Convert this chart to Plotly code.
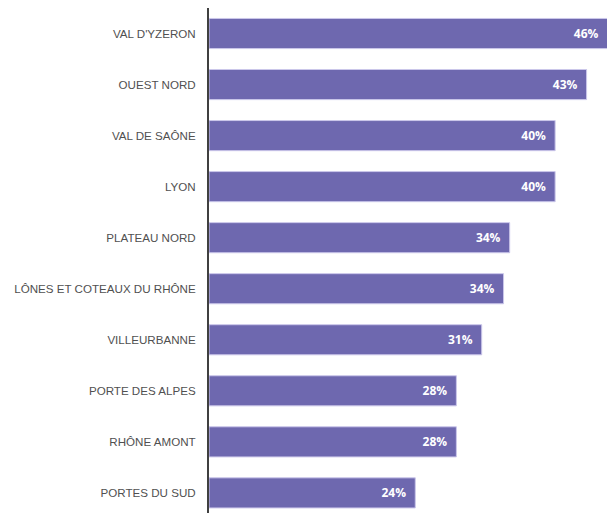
import plotly.graph_objects as go

categories = ["VAL D'YZERON", "OUEST NORD", "VAL DE SAÔNE", "LYON", "PLATEAU NORD",
              "LÔNES ET COTEAUX DU RHÔNE", "VILLEURBANNE", "PORTE DES ALPES",
              "RHÔNE AMONT", "PORTES DU SUD"]
values = [45.6, 43.2, 39.6, 39.6, 34.4, 33.7, 31.2, 28.3, 28.3, 23.6]

fig = go.Figure(go.Bar(
    x=values, y=categories, orientation="h",
    marker=dict(color="#6E68AF", line=dict(color="#CBC7EA", width=1)),
    texttemplate="%{x:.0f}%\u00a0\u00a0", textposition="inside",
    insidetextanchor="end",
    textfont=dict(family="Open Sans", size=12, color="white", weight="bold"),
    width=0.59,
))

fig.update_layout(
    width=607, height=505,
    margin=dict(l=201, r=0, t=0, b=0),
    paper_bgcolor="white", plot_bgcolor="white",
    showlegend=False,
    xaxis=dict(range=[0, 46.45], visible=False, automargin=False),
    yaxis=dict(
        type="category", categoryorder="array", categoryarray=categories,
        range=[9.394, -0.5], automargin=False,
        showline=True, linecolor="#404040", linewidth=2,
        ticks="", ticklabelstandoff=9, showgrid=False,
        tickfont=dict(family="Liberation Sans", size=11.6, color="#505050"),
    ),
)

fig.write_html("out.html")
